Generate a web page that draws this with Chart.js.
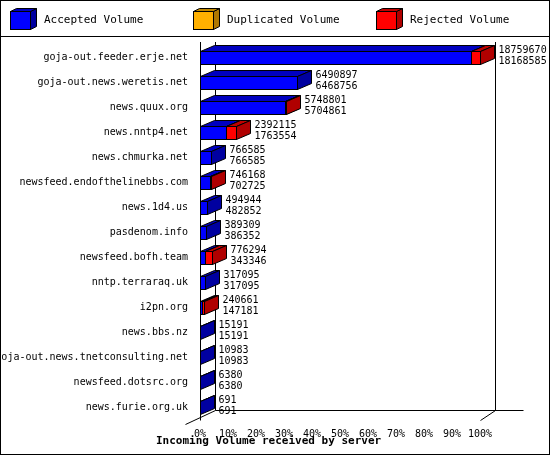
<!DOCTYPE html>
<html><head><meta charset="utf-8">
<script src="https://cdn.jsdelivr.net/npm/chart.js@4/dist/chart.umd.min.js"></script>
<style>html,body{margin:0;padding:0;background:#fff}#c{display:block}</style>
</head><body>
<canvas id="c" width="550" height="455"></canvas>
<script>
const servers = ["goja-out.feeder.erje.net","goja-out.news.weretis.net","news.quux.org","news.nntp4.net","news.chmurka.net","newsfeed.endofthelinebbs.com","news.1d4.us","pasdenom.info","newsfeed.bofh.team","nntp.terraraq.uk","i2pn.org","news.bbs.nz","goja-out.news.tnetconsulting.net","newsfeed.dotsrc.org","news.furie.org.uk"];
const offered = [18759670,6490897,5748801,2392115,766585,746168,494944,389309,776294,317095,240661,15191,10983,6380,691];
const accepted = [18168585,6468756,5704861,1763554,766585,702725,482852,386352,343346,317095,147181,15191,10983,6380,691];
const xTicks = [0,10,20,30,40,50,60,70,80,90,100];

const maxV = Math.max(...offered);
const accPct = accepted.map(v => v / maxV * 100);
const rejPct = offered.map((v, i) => (v - accepted[i]) / maxV * 100);
const FONT = "DejaVu Sans Mono";
const DX = 14, DY = 6;
const cols = [{f:"#0000ff", s:"#0000a0", t:"#0000c0"}, {f:"#ff0000", s:"#b00000", t:"#c00000"}];

function box3d(ctx, x, y, w, h, c) {
  ctx.lineWidth = 1; ctx.strokeStyle = "#000";
  ctx.fillStyle = c.t;
  ctx.beginPath(); ctx.moveTo(x, y); ctx.lineTo(x + DX, y - DY); ctx.lineTo(x + w + DX, y - DY); ctx.lineTo(x + w, y); ctx.closePath(); ctx.fill(); ctx.stroke();
  ctx.fillStyle = c.s;
  ctx.beginPath(); ctx.moveTo(x + w, y); ctx.lineTo(x + w + DX, y - DY); ctx.lineTo(x + w + DX, y + h - DY); ctx.lineTo(x + w, y + h); ctx.closePath(); ctx.fill(); ctx.stroke();
  ctx.fillStyle = c.f;
  ctx.fillRect(x, y, w, h); ctx.strokeRect(x, y, w, h);
}

const deco = {
  id: "deco",
  beforeDraw(chart) {
    const ctx = chart.ctx;
    ctx.save();
    ctx.fillStyle = "#fff"; ctx.fillRect(0, 0, 550, 455);
    ctx.restore();
  },
  beforeDatasetsDraw(chart) {
    const ctx = chart.ctx, a = chart.chartArea;
    ctx.save();
    ctx.strokeStyle = "#000"; ctx.lineWidth = 1;
    ctx.strokeRect(0.5, 0.5, 549, 454);
    ctx.beginPath(); ctx.moveTo(0, 36.5); ctx.lineTo(550, 36.5); ctx.stroke();
    const leg = [["Accepted Volume", {f:"#0000ff", s:"#0000a0", t:"#0000c0"}, 10], ["Duplicated Volume", {f:"#ffb000", s:"#b07800", t:"#c08800"}, 193], ["Rejected Volume", {f:"#ff0000", s:"#b00000", t:"#c00000"}, 376]];
    for (const [t, c, x] of leg) {
      ctx.fillStyle = c.f; ctx.strokeStyle = "#000";
      ctx.fillRect(x + .5, 11.5, 20, 18); ctx.strokeRect(x + .5, 11.5, 20, 18);
      ctx.fillStyle = c.s;
      ctx.beginPath(); ctx.moveTo(x + 20.5, 11.5); ctx.lineTo(x + 26.5, 8.5); ctx.lineTo(x + 26.5, 26.5); ctx.lineTo(x + 20.5, 29.5); ctx.closePath(); ctx.fill(); ctx.stroke();
      ctx.fillStyle = c.t;
      ctx.beginPath(); ctx.moveTo(x + .5, 11.5); ctx.lineTo(x + 6.5, 8.5); ctx.lineTo(x + 26.5, 8.5); ctx.lineTo(x + 20.5, 11.5); ctx.closePath(); ctx.fill(); ctx.stroke();
      ctx.fillStyle = "#000"; ctx.font = "11px " + FONT; ctx.textBaseline = "middle"; ctx.textAlign = "left";
      ctx.fillText(t, x + 34, 20);
    }
    const L = a.left + .5, R = a.right + .5, B = a.bottom + .5;
    ctx.beginPath();
    ctx.moveTo(L, 42); ctx.lineTo(L, B);
    ctx.moveTo(L + 15, 42); ctx.lineTo(L + 15, B - 10);
    ctx.moveTo(R + 15, 42); ctx.lineTo(R + 15, B - 10);
    ctx.moveTo(L + 15, B - 10); ctx.lineTo(R + 43, B - 10);
    ctx.moveTo(L - 15, B + 4); ctx.lineTo(L + 15, B - 10);
    ctx.moveTo(R, B); ctx.lineTo(R + 15, B - 10);
    ctx.stroke();
    ctx.restore();
  },
  afterDatasetsDraw(chart) {
    const ctx = chart.ctx;
    const m0 = chart.getDatasetMeta(0).data, m1 = chart.getDatasetMeta(1).data;
    ctx.save();
    m0.forEach((b0, i) => {
      const b1 = m1[i];
      const h = 13, y = Math.round(b0.y - h / 2) + .5;
      const x0 = Math.round(b0.base) + .5, x1 = Math.round(b0.x) + .5, x2 = Math.round(b1.x) + .5;
      box3d(ctx, x0, y, x1 - x0, h, cols[0]);
      if (x2 - x1 > 0.6) box3d(ctx, x1, y, x2 - x1, h, cols[1]);
      const lx = Math.max(x1, x2) + DX + 4;
      ctx.fillStyle = "#000"; ctx.font = "10px " + FONT; ctx.textAlign = "left"; ctx.textBaseline = "middle";
      ctx.fillText(String(offered[i]), lx, b0.y - 7);
      ctx.fillText(String(accepted[i]), lx, b0.y + 4);
    });
    ctx.font = "bold 11px " + FONT; ctx.textAlign = "left"; ctx.textBaseline = "middle";
    ctx.fillText("Incoming Volume received by server", 156, 441);
    ctx.restore();
  }
};

new Chart(document.getElementById("c"), {
  type: "bar",
  data: {
    labels: servers,
    datasets: [
      {label: "Accepted Volume", data: accPct, backgroundColor: "rgba(0,0,0,0)", borderWidth: 0},
      {label: "Rejected Volume", data: rejPct, backgroundColor: "rgba(0,0,0,0)", borderWidth: 0}
    ]
  },
  options: {
    indexAxis: "y", responsive: false, animation: false,
    layout: {padding: {top: 45, left: 0, right: 70, bottom: 0}},
    plugins: {legend: {display: false}, tooltip: {enabled: false}},
    scales: {
      x: {stacked: true, min: 0, max: 100, afterBuildTicks: s => { s.ticks = xTicks.map(v => ({value: v})); },
          grid: {display: false}, border: {display: false},
          ticks: {color: "#000", font: {family: FONT, size: 10}, padding: 0, maxRotation: 0, callback: v => v + "%"},
          afterFit: s => { s.height = 35; }},
      y: {stacked: true, grid: {display: false}, border: {display: false},
          ticks: {color: "#000", font: {family: FONT, size: 10}, padding: 4, autoSkip: false},
          afterFit: s => { s.width = 200; }}
    }
  },
  plugins: [deco]
});
</script>
</body></html>
